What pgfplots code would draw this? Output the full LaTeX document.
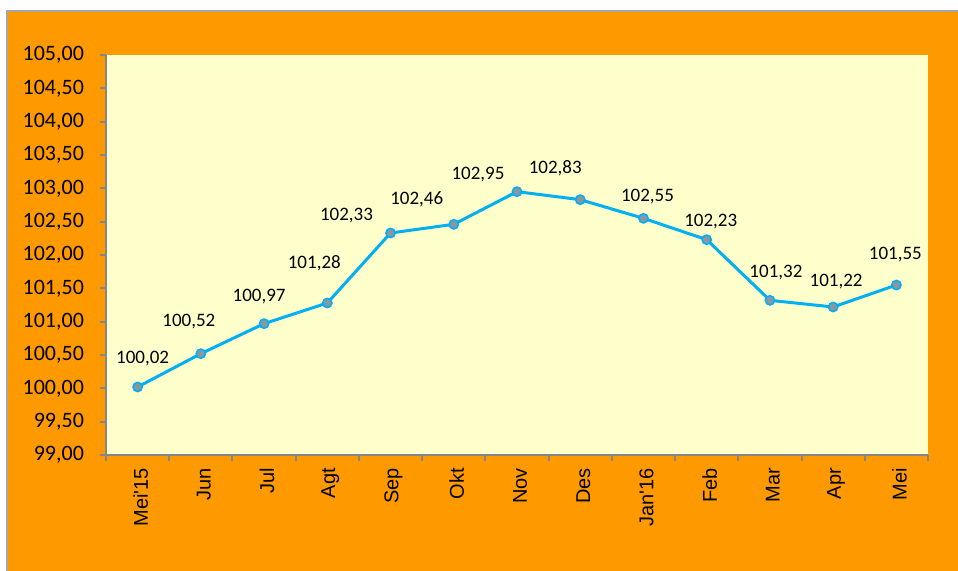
\documentclass[border=0pt]{standalone}
\usepackage{pgfplots}
\pgfplotsset{compat=1.18}
\usepackage{pgfplotstable}
\usepackage{fontspec}
\setmainfont{Carlito}
\newfontfamily\arial{Liberation Sans}
\definecolor{bgorange}{RGB}{255,153,0}
\definecolor{plotyellow}{RGB}{255,255,204}
\definecolor{linecyan}{RGB}{0,176,240}
\definecolor{mk}{RGB}{140,150,160}
\definecolor{axgray}{RGB}{134,134,134}

% x, value, label, label offset in px (dx right, dy up)
\pgfplotstableread{
x y lab dx dy
0 100.02 100,02 5 28
1 100.52 100,52 -12 32
2 100.97 100,97 -5 27
3 101.28 101,28 -13 40
4 102.33 102,33 -44 17
5 102.46 102,46 -37 25
6 102.95 102,95 -39 17
7 102.83 102,83 -25 31
8 102.55 102,55 4 22
9 102.23 102,23 4 18
10 101.32 101,32 6 28
11 101.22 101,22 3 25
12 101.55 101,55 -1 30
}\datatable

\begin{document}
\begin{tikzpicture}
\path[use as bounding box] (0,0) rectangle (479pt,285.5pt);
\fill[white] (0,0) rectangle (479pt,285.5pt);
\fill[bgorange] (3.5pt,0) rectangle (479pt,280pt);
\draw[gray!70, line width=0.8pt] (3.5pt,0) -- (3.5pt,280pt) -- (479pt,280pt);
\begin{axis}[
    at={(53pt,58pt)}, anchor=south west,
    scale only axis,
    width=411pt, height=200pt,
    xmin=-0.5, xmax=12.5,
    ymin=99, ymax=105,
    clip=false,
    axis background/.style={fill=plotyellow},
    axis lines*=left,
    axis line style={draw=axgray, line width=1pt, -},
    tick align=outside,
    tick style={draw=axgray, line width=1pt},
    major tick length=3pt,
    minor tick length=3pt,
    xtick={0,...,12},
    xticklabels={Mei'15,Jun,Jul,Agt,Sep,Okt,Nov,Des,Jan'16,Feb,Mar,Apr,Mei},
    major x tick style={draw=none},
    minor xtick={-0.5,0.5,...,12.5},
    xticklabel style={rotate=90, anchor=east, yshift=-1.5pt, font=\arial\fontsize{10}{12}\selectfont},
    ytick={99,99.5,...,105},
    yticklabel style={font=\fontsize{11}{13}\selectfont, xshift=-4.5pt,
        /pgf/number format/.cd, fixed, fixed zerofill, precision=2, use comma,
        assume math mode=true},
]
\addplot[
    color=linecyan, line width=1.5pt,
    mark=*, mark size=2.3pt,
    mark options={fill=mk, draw=linecyan, line width=0.8pt},
    point meta=explicit symbolic,
    visualization depends on={\thisrow{dx}\as\dx},
    visualization depends on={\thisrow{dy}\as\dy},
    nodes near coords={\pgfplotspointmeta},
    nodes near coords style={anchor=center, font=\fontsize{9.5}{11}\selectfont,
        xshift={\dx*0.5pt}, yshift={\dy*0.5pt}, text=black},
] table[x=x, y=y, meta=lab] {\datatable};
\end{axis}
\end{tikzpicture}
\end{document}
